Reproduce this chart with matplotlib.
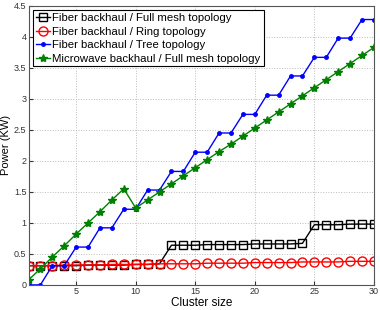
import numpy as np
import matplotlib
matplotlib.use('Agg')
import matplotlib.pyplot as plt

plt.rcParams['font.family'] = ['Liberation Sans', 'DejaVu Sans']

# cluster sizes 1..30
cluster = list(range(1, 31))

fiber_mesh = [0.31, 0.31, 0.31, 0.31, 0.31, 0.32, 0.32, 0.32, 0.32, 0.33, 0.33, 0.34,
              0.64, 0.64, 0.64, 0.65, 0.65, 0.65, 0.65, 0.66, 0.66, 0.66, 0.66, 0.67,
              0.97, 0.97, 0.97, 0.98, 0.98, 0.98]
fiber_ring = [0.31, 0.31, 0.31, 0.32, 0.32, 0.32, 0.32, 0.33, 0.33, 0.33, 0.33, 0.34,
              0.34, 0.34, 0.34, 0.35, 0.35, 0.35, 0.35, 0.36, 0.36, 0.36, 0.36, 0.37,
              0.37, 0.37, 0.37, 0.38, 0.38, 0.38]
fiber_tree = [0.0, 0.0, 0.31, 0.31, 0.61, 0.61, 0.92, 0.92, 1.22, 1.22, 1.53, 1.53,
              1.83, 1.83, 2.14, 2.14, 2.45, 2.45, 2.75, 2.75, 3.06, 3.06, 3.37, 3.37,
              3.67, 3.67, 3.98, 3.98, 4.28, 4.28]
microwave_mesh = [0.08, 0.26, 0.45, 0.63, 0.82, 1.00, 1.18, 1.37, 1.55, 1.24, 1.37, 1.50,
                  1.63, 1.76, 1.89, 2.02, 2.15, 2.27, 2.40, 2.53, 2.66, 2.79, 2.92, 3.05,
                  3.18, 3.31, 3.44, 3.57, 3.70, 3.83]

labels = ['Fiber backhaul / Full mesh topology',
          'Fiber backhaul / Ring topology',
          'Fiber backhaul / Tree topology',
          'Microwave backhaul / Full mesh topology']

fig = plt.figure(figsize=(3.8, 3.1), dpi=100)
ax = fig.add_axes([0.075, 0.081, 0.909, 0.9])

ax.plot(cluster, fiber_mesh, color='black', marker='s', markersize=5.5,
        markerfacecolor='none', markeredgewidth=1.0, linewidth=1.0, label=labels[0])
ax.plot(cluster, fiber_ring, color='red', marker='o', markersize=6.5,
        markerfacecolor='none', markeredgewidth=1.0, linewidth=1.0, label=labels[1])
ax.plot(cluster, fiber_tree, color='blue', marker='.', markersize=5,
        linewidth=1.0, label=labels[2])
ax.plot(cluster, microwave_mesh, color='green', marker='*', markersize=6,
        linewidth=1.0, label=labels[3])

ax.set_xlim(1, 30)
ax.set_ylim(0, 4.5)
ax.set_xticks([5, 10, 15, 20, 25, 30])
ax.set_yticks(np.arange(0, 4.51, 0.5))
ax.set_yticklabels(['0', '0.5', '1', '1.5', '2', '2.5', '3', '3.5', '4', '4.5'])
ax.tick_params(direction='in', labelsize=6.5, colors='#333333', length=3, pad=1.5)
ax.grid(True, linestyle=':', color='#bbbbbb', linewidth=0.7)
for s in ax.spines.values():
    s.set_color('#555555')
    s.set_linewidth(0.8)

ax.set_xlabel('Cluster size', fontsize=8.5, labelpad=1)
ax.set_ylabel('Power (KW)', fontsize=8)
ax.yaxis.set_label_coords(-0.05, 0.5)

leg = ax.legend(loc='upper left', fontsize=8.2, frameon=True, fancybox=False,
                handlelength=1.2, handletextpad=0.25, borderpad=0.25,
                labelspacing=0.3, borderaxespad=0.4)
leg.get_frame().set_edgecolor('black')
leg.get_frame().set_linewidth(0.8)
leg.get_frame().set_alpha(1)

fig.savefig('out.png', dpi=100)
